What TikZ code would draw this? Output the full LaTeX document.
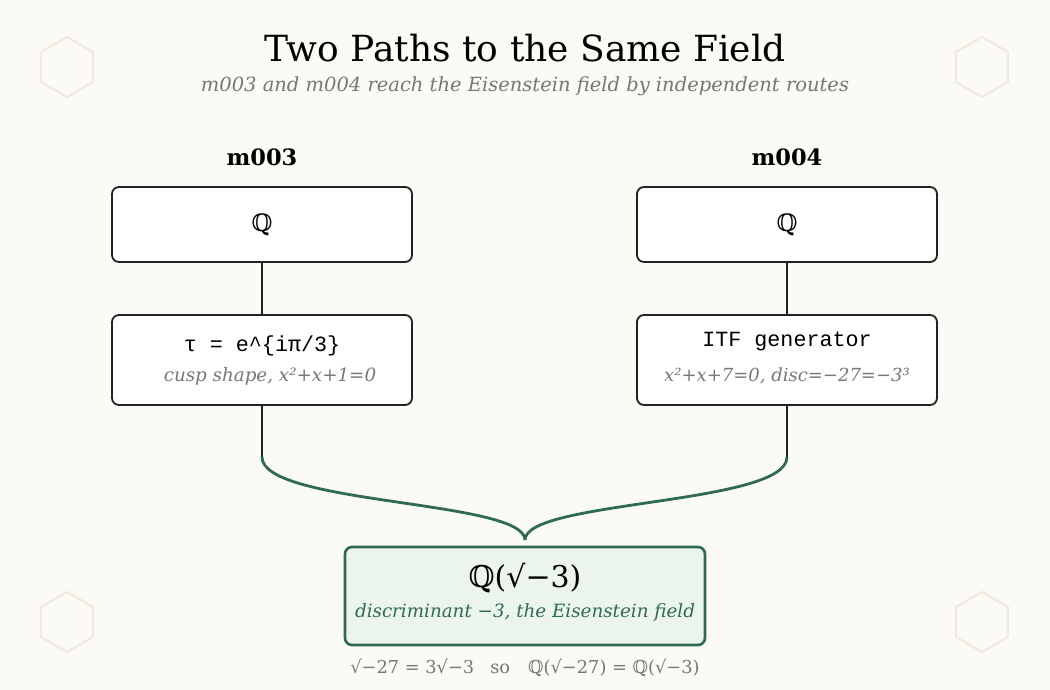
\documentclass[tikz,border=0pt]{standalone}
\usepackage{fontspec}
\setmainfont{DejaVu Serif}
\setmonofont{Liberation Mono}
\definecolor{bg}{HTML}{FBFAF5}
\definecolor{hex}{HTML}{EEEADF}
\definecolor{ink}{HTML}{222222}
\definecolor{grey}{HTML}{777777}
\definecolor{green}{HTML}{2E6B4F}
\definecolor{lgreen}{HTML}{EBF5EC}
\newcommand{\fs}[1]{\fontsize{#1}{#1}\selectfont}
\begin{document}
\begin{tikzpicture}[x=1pt,y=-1pt,
  box/.style={draw=ink,line width=1.8pt,rounded corners=7pt,fill=white,minimum width=300pt,inner sep=0pt},
  hexa/.style={draw=hex,line width=2pt},
  link/.style={draw=ink,line width=1.8pt},
  merge/.style={draw=green,line width=2.8pt},
  lbl/.style={font=\fs{22.5}\bfseries,text=black}]
\useasboundingbox[fill=bg] (0,0) rectangle (1050,690);
% hexagons
\foreach \cx/\cy in {67/67,982/67,67/622,982/622}
  \draw[hexa] (\cx,\cy) +(90:30) -- +(30:30) -- +(-30:30) -- +(-90:30) -- +(-150:30) -- +(150:30) -- cycle;
% title
\node (title) at (525,48) {\fs{36}Two Paths to the Same Field};
\node[text=grey] (sub) at (525,86) {\fs{19.5}\itshape m003 and m004 reach the Eisenstein field by independent routes};
% labels
\node[lbl] (l3) at (262,157) {m003};
\node[lbl] (l4) at (787,157) {m004};
% boxes
\node[box,minimum height=75pt] (q3) at (262,224.5) {\fs{24}ℚ};
\node[box,minimum height=75pt] (q4) at (787,224.5) {\fs{24}ℚ};
\node[box,minimum height=90pt] (t3) at (262,360) {};
\node[box,minimum height=90pt] (t4) at (787,360) {};
\node (t3a) at (262,346) {\fs{21.7}\ttfamily τ = e\^{}\{iπ/3\}};
\node[text=grey] (t3b) at (270,376) {\fs{18.3}\itshape cusp shape, x²+x+1=0};
\node (t4a) at (787,342) {\fs{21.7}\ttfamily ITF generator};
\node[text=grey] (t4b) at (787,376) {\fs{18}\itshape x²+x+7=0, disc=−27=−3³};
% connectors
\draw[link] (q3.south) -- (t3.north);
\draw[link] (q4.south) -- (t4.north);
\coordinate (m3) at (262,457);
\coordinate (m4) at (787,457);
\coordinate (tip) at (525,540);
\draw[link] (t3.south) -- (m3);
\draw[link] (t4.south) -- (m4);
\draw[merge] (m3) .. controls (262,505) and (525,500) .. (tip);
\draw[merge] (m4) .. controls (787,505) and (525,500) .. (tip);
% result
\node[box,draw=green,fill=lgreen,line width=2.6pt,minimum width=360pt,minimum height=98pt] (res) at (525,596) {};
\node (resa) at (525,578) {\fs{30}ℚ(√−3)};
\node[text=green] (resb) at (525,612) {\fs{18.3}\itshape discriminant −3, the Eisenstein field};
\node[text=grey] (note) at (525,668) {\fs{17.8}√−27 = 3√−3\hspace{16pt}so\hspace{18pt}ℚ(√−27) = ℚ(√−3)};
\end{tikzpicture}
\end{document}
